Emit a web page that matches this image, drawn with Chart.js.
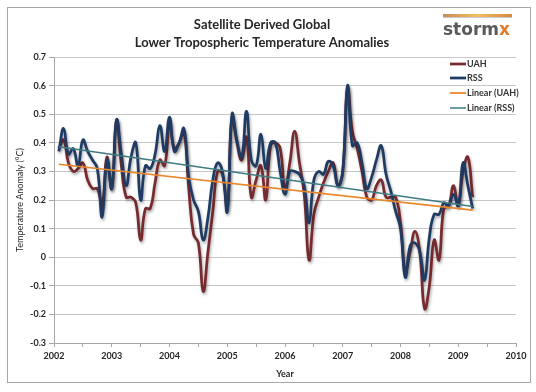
<!DOCTYPE html>
<html>
<head>
<meta charset="utf-8">
<script src="https://cdn.jsdelivr.net/npm/chart.js@4.4.1/dist/chart.umd.min.js"></script>
<style>
  html, body { margin: 0; padding: 0; background: #fff; }
</style>
</head>
<body>
<canvas id="anomalyCanvas" width="536" height="392"></canvas>
<script>
// Monthly anomalies, Jan 2002 - Mar 2009 (deg C)
const startYear = 2002;

const uah = [
  0.38, 0.41, 0.33, 0.30, 0.31, 0.33, 0.27, 0.24, 0.24, 0.18, 0.35, 0.24,   // 2002
  0.48, 0.32, 0.21, 0.21, 0.19, 0.06, 0.17, 0.17, 0.26, 0.34, 0.32, 0.47,   // 2003
  0.38, 0.40, 0.44, 0.24, 0.08, 0.05, -0.12, 0.02, 0.16, 0.30, 0.29, 0.17,  // 2004
  0.49, 0.40, 0.34, 0.42, 0.21, 0.27, 0.32, 0.20, 0.39, 0.40, 0.38, 0.24,   // 2005
  0.33, 0.44, 0.33, 0.22, -0.01, 0.15, 0.21, 0.26, 0.30, 0.33, 0.25, 0.30,  // 2006
  0.59, 0.44, 0.38, 0.30, 0.21, 0.20, 0.25, 0.27, 0.21, 0.21, 0.21, 0.12,   // 2007
  -0.05, 0.02, 0.09, 0.02, -0.18, -0.10, 0.06, -0.01, 0.17, 0.18, 0.25, 0.18, // 2008
  0.30, 0.35, 0.21                                                          // 2009
];

const rss = [
  0.37, 0.45, 0.36, 0.38, 0.32, 0.41, 0.37, 0.34, 0.31, 0.14, 0.34, 0.24,   // 2002
  0.48, 0.36, 0.25, 0.35, 0.40, 0.20, 0.32, 0.31, 0.36, 0.46, 0.37, 0.49,   // 2003
  0.37, 0.40, 0.45, 0.28, 0.20, 0.16, 0.06, 0.14, 0.27, 0.33, 0.30, 0.16,   // 2004
  0.50, 0.41, 0.35, 0.51, 0.34, 0.32, 0.43, 0.31, 0.40, 0.40, 0.30, 0.22,   // 2005
  0.30, 0.30, 0.29, 0.25, 0.12, 0.27, 0.30, 0.29, 0.335, 0.32, 0.25, 0.30,  // 2006
  0.60, 0.39, 0.40, 0.33, 0.24, 0.28, 0.34, 0.39, 0.29, 0.23, 0.16, 0.10,   // 2007
  -0.07, 0.04, 0.05, 0.02, -0.08, 0.07, 0.15, 0.15, 0.19, 0.18, 0.22, 0.18, // 2008
  0.33, 0.25, 0.17                                                          // 2009
];

// trend line values at the first and last month
const trendUah = [0.325, 0.165];
const trendRss = [0.386, 0.177];

const seriesNames = ['UAH', 'RSS', 'Linear (UAH)', 'Linear (RSS)'];
const seriesColors = ['#772B2F', '#1F3B63', '#E8862A', '#3E7B83'];

const firstX = startYear + 1 / 12;
const lastX = startYear + uah.length / 12;

function toPoints(values) {
  return values.map((v, i) => ({ x: startYear + (i + 1) / 12, y: v }));
}

const FONT = 'Lato, "Open Sans", sans-serif';

// shadow under the two data lines
const lineShadow = {
  id: 'lineShadow',
  beforeDatasetDraw(chart, args) {
    if (!chart.data.datasets[args.index].shadow) return;
    const ctx = chart.ctx;
    ctx.save();
    ctx.shadowColor = 'rgba(0,0,0,0.35)';
    ctx.shadowBlur = 3;
    ctx.shadowOffsetX = 1;
    ctx.shadowOffsetY = 2;
  },
  afterDatasetDraw(chart, args) {
    if (chart.data.datasets[args.index].shadow) chart.ctx.restore();
  }
};

// outer frame, logo and the in-plot legend
const decorations = {
  id: 'decorations',
  beforeDraw(chart) {
    const ctx = chart.ctx;
    ctx.save();
    ctx.fillStyle = '#fff';
    ctx.fillRect(0, 0, chart.width, chart.height);
    ctx.strokeStyle = '#A8A8A8';
    ctx.lineWidth = 1;
    ctx.strokeRect(7.5, 7.5, 523, 375);
    ctx.restore();
  },
  afterDraw(chart) {
    const ctx = chart.ctx;
    ctx.save();
    // logo
    const grad = ctx.createLinearGradient(443, 0, 512, 0);
    grad.addColorStop(0, '#C98A55');
    grad.addColorStop(0.5, '#F0C060');
    grad.addColorStop(1, '#D9863F');
    ctx.fillStyle = grad;
    ctx.fillRect(443, 14, 69, 3);
    ctx.fillStyle = 'rgba(150,150,150,0.5)';
    ctx.fillRect(443, 17, 69, 1);
    ctx.font = 'bold 17px "DejaVu Sans", sans-serif';
    ctx.textBaseline = 'alphabetic';
    ctx.textAlign = 'left';
    ctx.fillStyle = '#5A5A5A';
    ctx.fillText('storm', 443, 35);
    const w = ctx.measureText('storm').width;
    ctx.fillStyle = '#E07B2C';
    ctx.fillText('x', 443 + w, 35);

    // legend
    const rows = [64, 78, 93, 108];
    ctx.font = 'bold 9px ' + FONT;
    ctx.textBaseline = 'middle';
    chart.data.datasets.forEach((ds, i) => {
      const y = rows[i];
      ctx.strokeStyle = ds.borderColor;
      ctx.lineWidth = ds.borderWidth;
      ctx.beginPath();
      ctx.moveTo(450, y);
      ctx.lineTo(466, y);
      ctx.stroke();
      ctx.fillStyle = '#333';
      ctx.fillText(ds.label, 467, y + 0.5);
    });
    ctx.restore();
  }
};

const ctx = document.getElementById('anomalyCanvas').getContext('2d');

const anomalyChart = new Chart(ctx, {
  type: 'line',
  data: {
    datasets: [
      {
        label: seriesNames[0],
        data: toPoints(uah),
        borderColor: seriesColors[0],
        borderWidth: 2.75,
        tension: 0.45,
        pointRadius: 0,
        order: 3,
        shadow: true
      },
      {
        label: seriesNames[1],
        data: toPoints(rss),
        borderColor: seriesColors[1],
        borderWidth: 2.75,
        tension: 0.45,
        pointRadius: 0,
        order: 2,
        shadow: true
      },
      {
        label: seriesNames[2],
        data: [{ x: firstX, y: trendUah[0] }, { x: lastX, y: trendUah[1] }],
        borderColor: seriesColors[2],
        borderWidth: 1.75,
        pointRadius: 0,
        order: 1
      },
      {
        label: seriesNames[3],
        data: [{ x: firstX, y: trendRss[0] }, { x: lastX, y: trendRss[1] }],
        borderColor: seriesColors[3],
        borderWidth: 1.5,
        pointRadius: 0,
        order: 0
      }
    ]
  },
  options: {
    responsive: false,
    animation: false,
    devicePixelRatio: 1,
    layout: {
      padding: { left: 8, right: 20, top: 16, bottom: 10 }
    },
    plugins: {
      legend: { display: false },
      tooltip: { enabled: false },
      title: {
        display: true,
        text: ['Satellite Derived Global', 'Lower Tropospheric Temperature Anomalies'],
        color: '#262626',
        font: { family: FONT, size: 13, weight: 'bold', lineHeight: 1.4 },
        padding: { top: 0, bottom: 4.6 }
      }
    },
    scales: {
      x: {
        type: 'linear',
        min: 2002,
        max: 2010,
        afterFit: s => { s.height = 39; },
        ticks: {
          stepSize: 0.5,
          autoSkip: false,
          maxRotation: 0,
          padding: 4,
          color: '#262626',
          font: { family: FONT, size: 9, weight: 'bold' },
          callback: v => (Number.isInteger(v) ? String(v) : '')
        },
        grid: {
          drawOnChartArea: false,
          tickLength: 4,
          color: '#A6A6A6'
        },
        border: { color: '#A6A6A6' },
        title: {
          display: true,
          text: 'Year',
          color: '#262626',
          font: { family: FONT, size: 9, weight: 'bold' },
          padding: { top: 0, bottom: 3 }
        }
      },
      y: {
        min: -0.3,
        max: 0.7,
        afterFit: s => { s.width = 46; },
        ticks: {
          stepSize: 0.1,
          padding: 3,
          color: '#262626',
          font: { family: FONT, size: 9, weight: 'bold' },
          callback: v => String(Math.round(v * 10) / 10)
        },
        grid: {
          color: '#C8C8C8',
          tickLength: 5,
          tickColor: '#A6A6A6'
        },
        border: { color: '#A6A6A6' },
        title: {
          display: true,
          text: 'Temperature Anomaly (°C)',
          color: '#262626',
          font: { family: FONT, size: 9 },
          padding: { top: 6.6, bottom: 0 }
        }
      }
    }
  },
  plugins: [lineShadow, decorations]
});
</script>
</body>
</html>
